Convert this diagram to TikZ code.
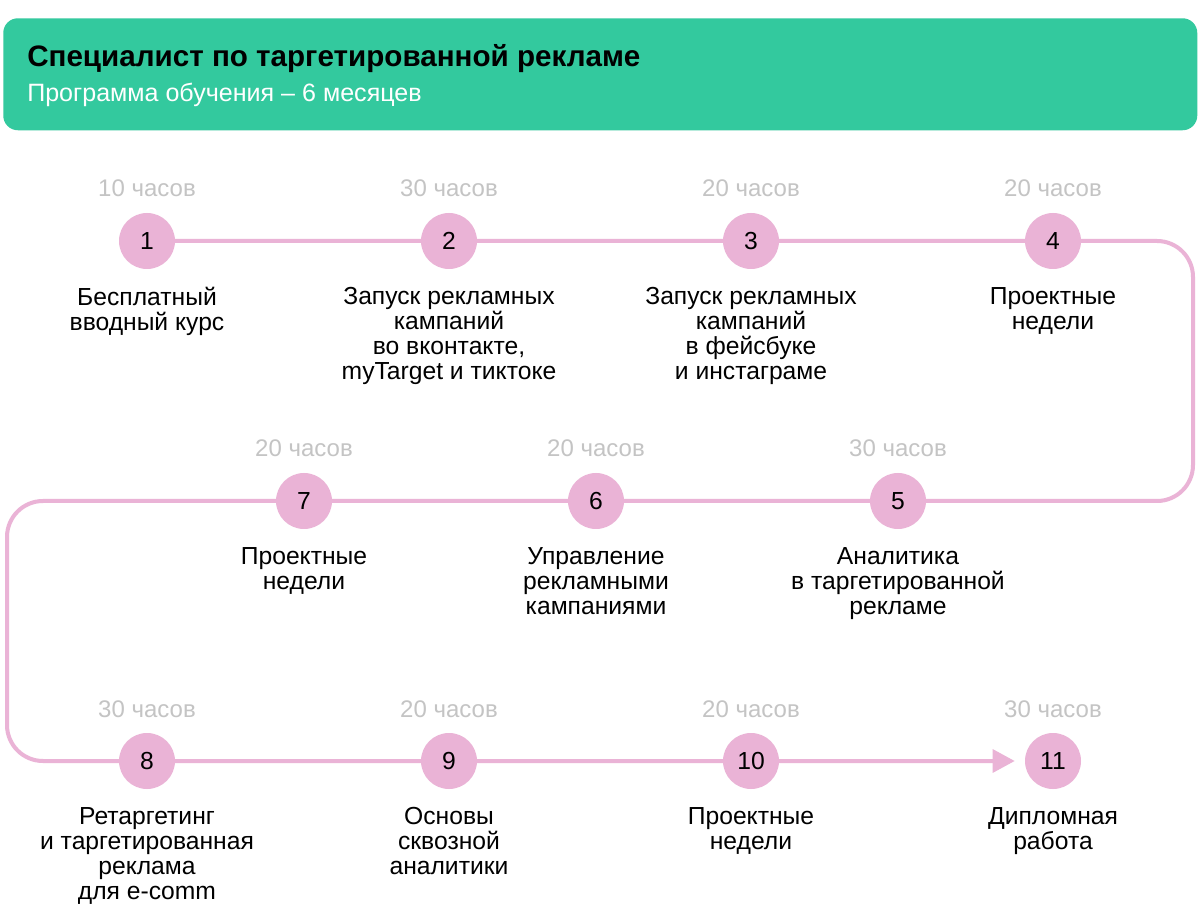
\documentclass[tikz,border=0pt]{standalone}
\usepackage{fontspec}
\setmainfont{Liberation Sans}
\usetikzlibrary{arrows.meta,backgrounds}
\definecolor{hdrgreen}{RGB}{51,201,158}
\definecolor{pinkc}{RGB}{234,179,214}
\definecolor{hrsgray}{RGB}{196,196,196}
\begin{document}
\begin{tikzpicture}[x=0.75pt,y=-0.75pt,
  stepc/.style={circle, fill=pinkc, minimum size=42pt, inner sep=0pt, font=\fontsize{18.5}{18.5}\selectfont},
  hrs/.style={text=hrsgray, anchor=base, inner sep=0pt, font=\fontsize{18}{18}\selectfont},
  lbl/.style={align=center, anchor=north, inner sep=0pt, font=\fontsize{18.5}{18.75}\selectfont},
  conn/.style={draw=pinkc, line width=3pt, rounded corners=27pt},
  hdrbox/.style={fill=hdrgreen, rounded corners=11pt, anchor=north west, inner sep=0pt, minimum width=895.5pt, minimum height=84pt},
  ttl/.style={anchor=base west, inner sep=0pt, font=\fontsize{22.2}{22.2}\selectfont\bfseries},
  sub/.style={anchor=base west, inner sep=0pt, text=white, font=\fontsize{18.8}{18.8}\selectfont}]
\useasboundingbox (0,0) rectangle (1200,919);
% header
\node[hdrbox] (hdr) at (3,18) {};
\node[ttl] (title) at (27,67) {Специалист по таргетированной рекламе};
\node[sub] (subtitle) at (27,102) {Программа обучения – 6 месяцев};
% row 1
\node[stepc] (n1) at (147,241) {1};
\node[stepc] (n2) at (449,241) {2};
\node[stepc] (n3) at (751,241) {3};
\node[stepc] (n4) at (1053,241) {4};
\node[hrs] (h1) at (147,197) {10 часов};
\node[hrs] (h2) at (449,197) {30 часов};
\node[hrs] (h3) at (751,197) {20 часов};
\node[hrs] (h4) at (1053,197) {20 часов};
\node[lbl] (l1) at (147,287) {Бесплатный\\вводный курс};
\node[lbl] (l2) at (449,287) {Запуск рекламных\\кампаний\\во вконтакте,\\myTarget и тиктоке};
\node[lbl] (l3) at (751,287) {Запуск рекламных\\кампаний\\в фейсбуке\\и инстаграме};
\node[lbl] (l4) at (1053,287) {Проектные\\недели};
% row 2
\node[stepc] (n5) at (898,501) {5};
\node[stepc] (n6) at (596,501) {6};
\node[stepc] (n7) at (304,501) {7};
\node[hrs] (h5) at (898,457) {30 часов};
\node[hrs] (h6) at (596,457) {20 часов};
\node[hrs] (h7) at (304,457) {20 часов};
\node[lbl] (l5) at (898,547) {Аналитика\\в таргетированной\\рекламе};
\node[lbl] (l6) at (596,547) {Управление\\рекламными\\кампаниями};
\node[lbl] (l7) at (304,547) {Проектные\\недели};
% row 3
\node[stepc] (n8) at (147,761) {8};
\node[stepc] (n9) at (449,761) {9};
\node[stepc] (n10) at (751,761) {10};
\node[stepc] (n11) at (1053,761) {11};
\node[hrs] (h8) at (147,717) {30 часов};
\node[hrs] (h9) at (449,717) {20 часов};
\node[hrs] (h10) at (751,717) {20 часов};
\node[hrs] (h11) at (1053,717) {30 часов};
\node[lbl] (l8) at (147,807) {Ретаргетинг\\и таргетированная\\реклама\\для e-comm};
\node[lbl] (l9) at (449,807) {Основы\\сквозной\\аналитики};
\node[lbl] (l10) at (751,807) {Проектные\\недели};
\node[lbl] (l11) at (1053,807) {Дипломная\\работа};
% connector
\coordinate (ra) at (1193,241);
\coordinate (rb) at (1193,501);
\coordinate (la) at (7,501);
\coordinate (lb) at (7,761);
\begin{scope}[on background layer]
\fill[white] (0,0) rectangle (1200,919);
\draw[conn, -{Triangle[length=16.5pt,width=17pt]}, shorten >=7.5pt]
  (n1.center) -- (ra) -- (rb) -- (la) -- (lb) -- (n11.west);
\end{scope}
\end{tikzpicture}
\end{document}
